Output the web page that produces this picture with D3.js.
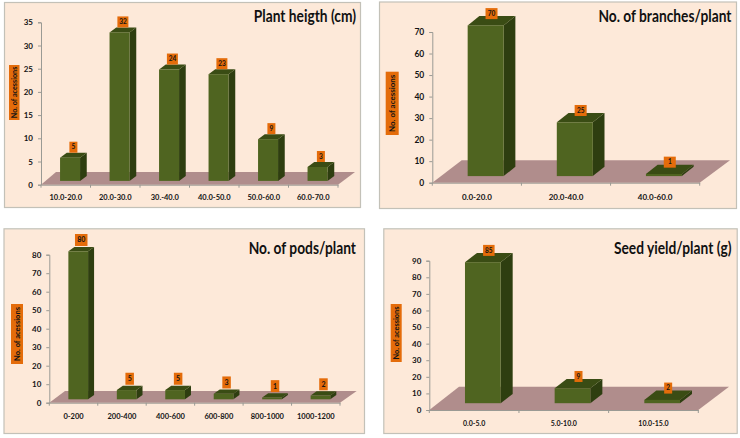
<!DOCTYPE html>
<html>
<head>
<meta charset="utf-8">
<script src="https://cdn.jsdelivr.net/npm/d3@7"></script>
<style>
  html, body { margin: 0; padding: 0; background: #fff; }
  svg { display: block; }
  text { font-family: Lato, "Liberation Sans", sans-serif; font-weight: 700; fill: #141414; }
  .title { fill: #111; }
</style>
</head>
<body>
<div id="plotArea"></div>
<script>
// Chart values
const heightCats = ["10.0-20.0", "20.0-30.0", "30.-40.0", "40.0-50.0", "50.0-60.0", "60.0-70.0"];
const heightVals = [5, 32, 24, 23, 9, 3];
const heightTicks = [0, 5, 10, 15, 20, 25, 30, 35];

const branchCats = ["0.0-20.0", "20.0-40.0", "40.0-60.0"];
const branchVals = [70, 25, 1];
const branchTicks = [0, 10, 20, 30, 40, 50, 60, 70];

const podCats = ["0-200", "200-400", "400-600", "600-800", "800-1000", "1000-1200"];
const podVals = [80, 5, 5, 3, 1, 2];
const podTicks = [0, 10, 20, 30, 40, 50, 60, 70, 80];

const seedCats = ["0.0-5.0", "5.0-10.0", "10.0-15.0"];
const seedVals = [85, 9, 2];
const seedTicks = [0, 10, 20, 30, 40, 50, 60, 70, 80, 90];

const yLabelShort = "No. of acessions";

// Panel layout: frame, plot box, floor, 3d depth
const panels = [
  { title: "Plant heigth (cm)", cats: heightCats, vals: heightVals, ticks: heightTicks,
    frame: [4, 2, 360, 207], x: [41, 338], y: [184.7, 22.3],
    floorTop: 172, floorDx: [15, 17], shift: [4.3, -3.8], depth: [6.7, 5], barW: 20,
    titleXY: [356, 21.5], titleSize: 16.5, catY: 197, catSize: 7.5, tickSize: 8,
    valBox: [8, 11], valBoxWide: 11, valDrop: 0, valSize: 6.5,
    yBox: [9, 65, 10.5, 55], yBoxSize: 7.2 },
  { title: "No. of branches/plant", cats: branchCats, vals: branchVals, ticks: branchTicks,
    frame: [379, 1.5, 736, 208], x: [432.3, 699.7], y: [182.7, 32],
    floorTop: 160.3, floorDx: [29.4, 30.3], shift: [8.8, -6.6], depth: [11.7, 9.3], barW: 36,
    titleXY: [731.5, 22], titleSize: 16.5, catY: 197, catSize: 8, tickSize: 8.5,
    valBox: [12, 11], valBoxWide: 12, valDrop: 3, valSize: 6.5,
    yBox: [385.7, 71.7, 13, 63.3], yBoxSize: 8 },
  { title: "No. of pods/plant", cats: podCats, vals: podVals, ticks: podTicks,
    frame: [3.5, 228.3, 364, 433], x: [49.3, 340], y: [402.7, 254.7],
    floorTop: 391, floorDx: [15.7, 16.7], shift: [4.7, -3.4], depth: [6, 4.3], barW: 19.7,
    titleXY: [356, 254], titleSize: 16.5, catY: 416, catSize: 7.5, tickSize: 8,
    valBox: [8.5, 12], valBoxWide: 12.5, valDrop: -1, valSize: 7,
    yBox: [11, 304, 12, 60], yBoxSize: 7.5 },
  { title: "Seed yield/plant (g)", cats: seedCats, vals: seedVals, ticks: seedTicks,
    frame: [383.3, 228.3, 736.7, 433], x: [429.3, 698.3], y: [410, 260.7],
    floorTop: 386.7, floorDx: [29.7, 30.7], shift: [8.7, -6.8], depth: [12, 9.3], barW: 35.7,
    titleXY: [731.5, 254], titleSize: 16.5, catY: 424, catSize: 7, tickSize: 8,
    valBox: [8, 11], valBoxWide: 11.5, valDrop: 3, valSize: 6.5,
    yBox: [390.7, 304, 11, 58], yBoxSize: 7.4 }
];

const colors = {
  frame: "#fde9d9", frameLine: "#c3c1b8", floor: "#b08d8c", axis: "#9a9a94",
  front: "#4f6420", side: "#2e3e10", top: "#3a4c14", orange: "#e46c0a"
};

const svg = d3.select("#plotArea").append("svg").attr("width", 740).attr("height", 438);

panels.forEach(function(p) {
  let g = svg.append("g");
  let xScale = d3.scaleBand().domain(p.cats).range(p.x);
  let yScale = d3.scaleLinear().domain([p.ticks[0], p.ticks[p.ticks.length - 1]]).range(p.y);
  let y0 = yScale(0);

  // Background frame
  g.append("rect")
    .attr("x", p.frame[0] + .5).attr("y", p.frame[1] + .5)
    .attr("width", p.frame[2] - p.frame[0]).attr("height", p.frame[3] - p.frame[1])
    .attr("fill", colors.frame).attr("stroke", colors.frameLine).attr("stroke-width", 1.2);

  // Floor
  g.append("path")
    .attr("d", d3.line()([
      [p.x[0], y0], [p.x[1], y0],
      [p.x[1] + p.floorDx[1], p.floorTop], [p.x[0] + p.floorDx[0], p.floorTop]
    ]) + "Z")
    .attr("fill", colors.floor);

  // Axes
  let yAxis = d3.axisLeft(yScale).tickValues(p.ticks).tickSize(3).tickPadding(5);
  let yG = g.append("g").attr("transform", "translate(" + p.x[0] + ",0)").call(yAxis);
  yG.selectAll("text").style("font-size", p.tickSize + "px");

  let xAxis = d3.axisBottom(xScale).tickSize(0).tickPadding(0);
  let xG = g.append("g").attr("transform", "translate(0," + y0 + ")").call(xAxis);
  xG.selectAll("text")
    .attr("y", p.catY - y0).attr("dy", ".35em")
    .style("font-size", p.catSize + "px");

  // Ticks sit on the category boundaries
  xG.selectAll(".edge")
    .data(p.cats.map(c => xScale(c)).concat([p.x[1]]))
    .enter().append("line")
    .attr("class", "edge")
    .attr("x1", d => d).attr("x2", d => d)
    .attr("y1", 0).attr("y2", 3);

  g.selectAll(".domain, .tick line, .edge").attr("stroke", colors.axis);

  // 3d bars
  let bars = g.selectAll(".bar")
    .data(p.cats.map((c, i) => ({ cat: c, val: p.vals[i] })))
    .enter().append("g").attr("class", "bar");

  let left = d => xScale(d.cat) + xScale.bandwidth() / 2 + p.shift[0] - p.barW / 2;
  let base = y0 + p.shift[1];
  let topY = d => yScale(d.val) + p.shift[1];
  let [dx, dy] = p.depth;

  bars.append("path")
    .attr("fill", colors.side)
    .attr("d", d => d3.line()([
      [left(d) + p.barW, topY(d)], [left(d) + p.barW + dx, topY(d) - dy],
      [left(d) + p.barW + dx, base - dy], [left(d) + p.barW, base]
    ]) + "Z");
  bars.append("path")
    .attr("fill", colors.top)
    .attr("d", d => d3.line()([
      [left(d), topY(d)], [left(d) + dx, topY(d) - dy],
      [left(d) + p.barW + dx, topY(d) - dy], [left(d) + p.barW, topY(d)]
    ]) + "Z");
  bars.append("rect")
    .attr("fill", colors.front)
    .attr("x", left).attr("y", topY)
    .attr("width", p.barW).attr("height", d => base - topY(d));

  // Value labels on orange boxes
  let boxW = d => String(d.val).length > 1 ? p.valBoxWide : p.valBox[0];
  let boxX = d => left(d) + p.barW / 2 + dx / 2;
  let boxBottom = d => topY(d) - dy + p.valDrop;

  bars.append("rect")
    .attr("fill", colors.orange)
    .attr("x", d => boxX(d) - boxW(d) / 2)
    .attr("y", d => boxBottom(d) - p.valBox[1])
    .attr("width", boxW).attr("height", p.valBox[1]);
  bars.append("text")
    .attr("text-anchor", "middle")
    .attr("x", boxX)
    .attr("y", d => boxBottom(d) - p.valBox[1] / 2)
    .attr("dy", ".35em")
    .style("font-size", p.valSize + "px")
    .text(d => d.val);

  // Y axis label
  let [bx, by, bw, bh] = p.yBox;
  g.append("rect")
    .attr("x", bx).attr("y", by).attr("width", bw).attr("height", bh)
    .attr("fill", colors.orange);
  g.append("text")
    .attr("text-anchor", "middle")
    .attr("transform", "translate(" + (bx + bw / 2) + "," + (by + bh / 2) + ") rotate(-90)")
    .attr("dy", ".35em")
    .style("font-size", p.yBoxSize + "px")
    .text(yLabelShort);

  // Title, narrowed to the condensed face of the original
  g.append("text")
    .attr("class", "title")
    .attr("text-anchor", "end")
    .attr("transform", "translate(" + p.titleXY[0] + "," + p.titleXY[1] + ") scale(.835,1)")
    .style("font-size", p.titleSize + "px")
    .text(p.title);
});
</script>
</body>
</html>
